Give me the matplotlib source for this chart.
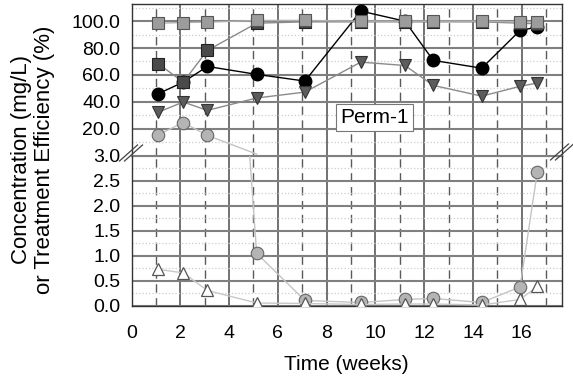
import numpy as np
import matplotlib
matplotlib.use("Agg")
import matplotlib.pyplot as plt
from matplotlib.lines import Line2D

plt.rcParams['font.family'] = ['Liberation Sans', 'DejaVu Sans']

# sampling times (weeks)
weeks = [1.10, 2.12, 3.11, 5.13, 7.11, 9.40, 11.21, 12.37, 14.36, 15.93, 16.64]

# upper panel series
black_circ = [46, 54.6, 66.3, 60.4, 55.4, 107.5, 100, 70.8, 65, 93.1, 95.6]
dark_sq = [68.3, 54.6, 78.2, 98.5, 99.5, 99.5, 99.5, 99.5, 99.5, 98.5, 98]
light_sq = [98.5, 99, 99.3, 100.5, 100.5, 100, 100, 100, 100, 99.5, 99.5]
down_tri = [32.3, 39.8, 33.6, 42.8, 47.2, 69.5, 67, 52.2, 44.2, 51.5, 54]

# series crossing both panels
light_circ = [15.5, 24.5, 15, 1.05, 0.11, 0.07, 0.13, 0.15, 0.07, 0.38, 2.68]
# lower panel series
open_tri = [0.73, 0.66, 0.31, 0.06, 0.05, 0.03, 0.04, 0.04, 0.02, 0.13, 0.39]

top_ticks = [20, 40, 60, 80, 100]
low_ticks = [0.0, 0.5, 1.0, 1.5, 2.0, 2.5, 3.0]
x_ticks = [0, 2, 4, 6, 8, 10, 12, 14, 16]

W, H = 573, 381
fig = plt.figure(figsize=(W / 100, H / 100), dpi=100)
L, R, T, B, M = 131.5, 562, 3.7, 306, 155.5
ax_top = fig.add_axes([L / W, 1 - M / H, (R - L) / W, (M - T) / H])
ax_low = fig.add_axes([L / W, 1 - B / H, (R - L) / W, (B - M) / H])

for ax in (ax_top, ax_low):
    ax.set_xlim(0, 17.65)
    ax.set_xticks(x_ticks)
    ax.set_xticks(np.arange(1, 18, 2), minor=True)
    ax.grid(True, which='major', axis='x', color='#5a5a5a', lw=1.2, ls='-')
    ax.grid(True, which='minor', axis='x', color='#5a5a5a', lw=1.0, ls=(0, (6, 4)))
    ax.grid(True, which='major', axis='y', color='#808080', lw=1.5, ls='-')
    ax.grid(True, which='minor', axis='y', color='#cccccc', lw=0.9, ls=':')
    ax.set_axisbelow(True)
    ax.tick_params(which='both', length=0, labelsize=14)
    ax.tick_params(axis='y', pad=8)
    for s in ax.spines.values():
        s.set_color('#333333')
        s.set_linewidth(1.0)

ax_top.set_ylim(0, 113)
ax_top.set_yticks(top_ticks)
ax_top.set_yticks(np.arange(10, 113, 10), minor=True)
ax_top.set_yticklabels(['%.1f' % v for v in top_ticks])
ax_top.tick_params(axis='x', labelbottom=False)
ax_top.spines['bottom'].set_visible(False)

ax_low.set_ylim(0, 3.0)
ax_low.set_yticks(low_ticks)
ax_low.set_yticks(np.arange(0.25, 3.0, 0.5), minor=True)
ax_low.set_yticklabels(['%.1f' % v for v in low_ticks])
ax_low.spines['top'].set_visible(False)
ax_low.tick_params(axis='x', pad=14)
ax_low.set_xlabel('Time (weeks)', fontsize=15, labelpad=9)
ax_low.axhline(3.0, color='#808080', lw=1.5, zorder=1.5, clip_on=False)

ms = 9
wk = np.array(weeks)
lc = np.array(light_circ)
# light circles: the drop from the upper into the lower panel
ax_top.plot(wk[:4], lc[:4], color='#c4c4c4', lw=1.0, zorder=2)
ax_top.plot(wk[lc > 3], lc[lc > 3], ls='none', marker='o', ms=ms,
            mfc='#b4b4b4', mec='#666666', mew=0.8, zorder=3)
ax_low.plot(wk, lc, color='#c4c4c4', lw=1.0, zorder=2)
ax_low.plot(wk[lc <= 3], lc[lc <= 3], ls='none', marker='o', ms=ms,
            mfc='#b4b4b4', mec='#666666', mew=0.8, zorder=3)

ax_low.plot(weeks, open_tri, color='#c8c8c8', lw=1.0, marker='^', ms=ms,
            mfc='white', mec='#555555', mew=0.9, zorder=3)

ax_top.plot(weeks, black_circ, color='black', lw=1.0, marker='o', ms=ms,
            mfc='black', mec='black', zorder=4)
ax_top.plot(weeks, down_tri, color='#8a8a8a', lw=1.0, marker='v', ms=ms,
            mfc='#5c5c5c', mec='#333333', mew=0.8, zorder=5)
ax_top.plot(weeks, dark_sq, color='#8a8a8a', lw=1.0, marker='s', ms=8.5,
            mfc='#4a4a4a', mec='#222222', mew=0.8, zorder=6)
ax_top.plot(weeks, light_sq, color='#b0b0b0', lw=1.0, marker='s', ms=8.5,
            mfc='#9c9c9c', mec='#555555', mew=0.8, zorder=7)

ax_top.text(9.95, 28.5, 'Perm-1', fontsize=15, ha='center', va='center', zorder=8,
            bbox=dict(boxstyle='square,pad=0.2', fc='white', ec='#777777', lw=0.8))

# y label
fig.text(33 / W, 1 - 160 / H, 'Concentration (mg/L)\nor Treatment Efficiency (%)',
         rotation=90, ha='center', va='center', fontsize=16, linespacing=1.15)

# axis break marks
def brk(cx, cy):
    for off in (-2.5, 2.5):
        x0, y0 = cx - 9 + off, cy + 8
        x1, y1 = cx + 9 + off, cy - 8
        fig.add_artist(Line2D([x0 / W, x1 / W], [1 - y0 / H, 1 - y1 / H],
                              transform=fig.transFigure, color='#444444', lw=0.9))

brk(131, 153)
brk(562, 152)

fig.savefig('out.png', dpi=100)
